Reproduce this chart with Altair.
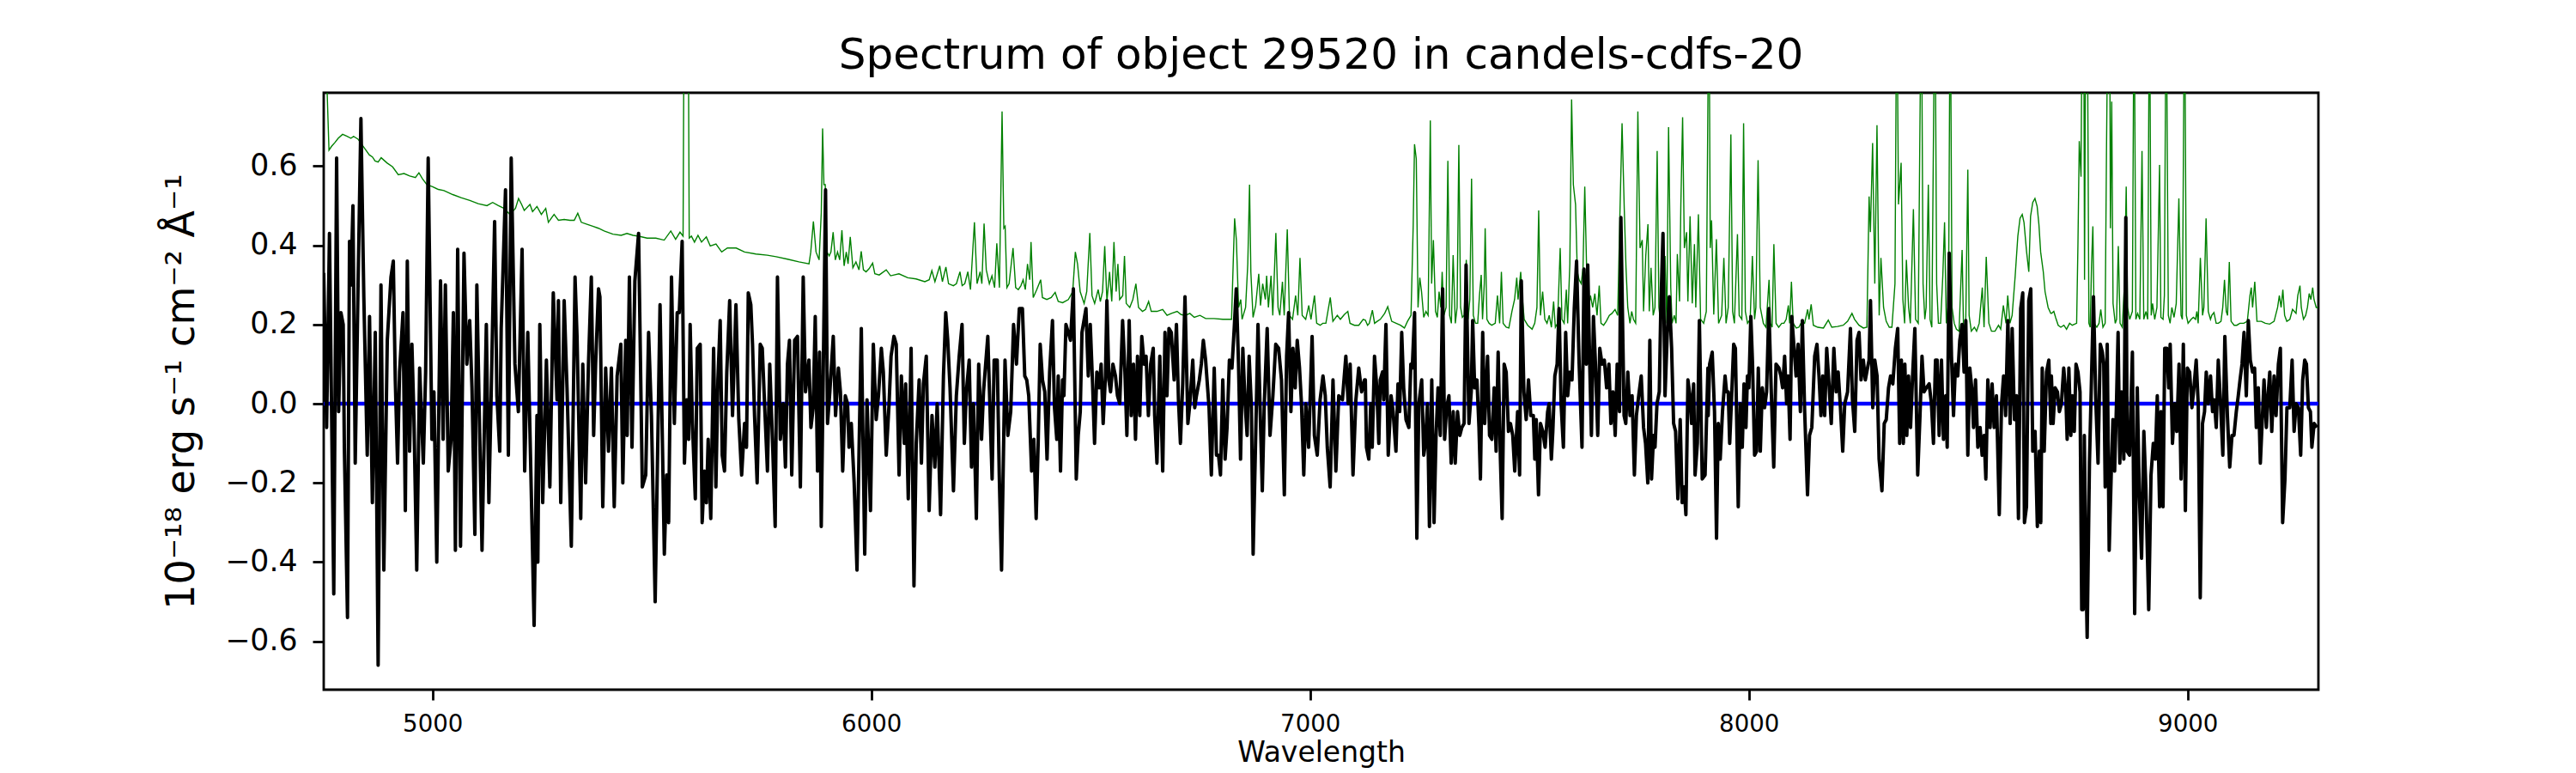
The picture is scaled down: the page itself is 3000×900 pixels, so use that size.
import altair as alt
import pandas as pd

TITLE = "Spectrum of object 29520 in candels-cdfs-20"
X_TITLE = "Wavelength"
Y_TITLE = "10⁻¹⁸ erg s⁻¹ cm⁻² Å⁻¹"
X_TICKS = [5000, 6000, 7000, 8000, 9000]
Y_TICKS = [-0.6, -0.4, -0.2, 0.0, 0.2, 0.4, 0.6]
X_RANGE = [4752, 9298]
Y_RANGE = [-0.722, 0.785]

# ---- observed spectrum (black), read segment by segment ----
WAVE_1 = [4752.0, 4758.6, 4765.1, 4774.9, 4781.4, 4786.0, 4791.2, 4796.4, 4799.0, 4806.2,
          4810.8, 4814.0, 4818.6, 4823.8, 4830.3, 4836.8, 4843.4, 4851.2, 4856.4, 4862.9,
          4869.5, 4876.0, 4882.5, 4889.0, 4896.9, 4905.3, 4910.6, 4915.1, 4920.3, 4924.9,
          4932.7, 4938.0, 4942.5, 4947.7, 4953.0, 4957.5, 4964.0, 4970.6, 4979.0, 4984.3,
          4990.1, 4998.6, 5003.2, 5009.7, 5018.2, 5024.1, 5029.3, 5035.8, 5042.3, 5047.5,
          5052.1, 5057.3, 5063.8, 5071.7, 5078.2, 5084.7, 5089.9, 5096.5, 5101.0, 5105.6,
          5112.8, 5122.6, 5128.4, 5133.6, 5141.5, 5146.7, 5153.2, 5156.5, 5166.3, 5172.8,
          5179.3, 5187.8, 5195.6, 5204.1, 5210.0, 5217.1, 5225.0, 5231.5, 5238.0, 5240.0,
          5244.5, 5251.1, 5259.5, 5267.4, 5275.2, 5283.7, 5286.9, 5292.2, 5300.0, 5306.5,
          5316.3, 5324.8, 5329.3, 5337.8, 5342.4, 5348.9, 5355.4, 5361.9, 5367.2, 5371.7,
          5378.3, 5381.5, 5388.0, 5394.6, 5401.1, 5407.6, 5414.1, 5420.7, 5429.1, 5433.7,
          5440.2, 5443.5, 5448.7, 5454.6, 5461.1, 5469.6, 5478.1, 5485.9, 5492.4, 5498.9,
          5507.4, 5518.5, 5528.3, 5533.5, 5538.1, 5544.6, 5551.1, 5557.6]
FLUX_1 = [0.33, -0.06, 0.43, -0.48, 0.62, -0.02, 0.23, 0.20, -0.11, -0.54,
          0.41, 0.30, 0.50, -0.15, 0.30, 0.72, 0.27, -0.13, 0.22, -0.25,
          0.18, -0.66, 0.30, -0.42, 0.16, 0.32, 0.36, 0.06, -0.15, 0.08,
          0.23, -0.27, 0.36, -0.12, 0.15, -0.03, -0.42, 0.09, -0.15, 0.08,
          0.62, -0.09, 0.03, -0.40, 0.31, -0.09, 0.30, -0.17, -0.09, 0.23,
          -0.37, 0.39, -0.36, 0.38, 0.10, 0.21, 0.04, -0.33, 0.30, 0.03,
          -0.37, 0.20, -0.25, 0.02, 0.46, 0.02, -0.12, 0.19, 0.54, -0.13,
          0.62, 0.10, -0.02, 0.39, -0.17, 0.18, -0.22, -0.56, -0.03, -0.40,
          0.20, -0.25, 0.11, -0.21, 0.28, 0.01, 0.26, -0.25, 0.26, 0.04,
          -0.36, 0.32, 0.17, -0.29, 0.10, -0.20, 0.10, 0.32, -0.08, 0.10,
          0.29, 0.27, -0.26, 0.09, -0.12, 0.09, -0.26, 0.07, 0.15, -0.20,
          0.16, -0.08, 0.32, -0.11, 0.31, 0.43, -0.21, -0.18, 0.18, -0.03,
          -0.50, 0.25, -0.38, -0.18, -0.30, 0.32, -0.05, 0.23]

WAVE_2 = [5562.3, 5568.9, 5574.1, 5579.3, 5583.9, 5587.1, 5592.3, 5598.9, 5603.4, 5610.0,
          5614.5, 5619.7, 5624.3, 5628.2, 5634.1, 5640.6, 5645.8, 5650.4, 5655.6, 5660.2,
          5665.4, 5670.6, 5677.2, 5683.7, 5691.5, 5698.0, 5704.5, 5711.1, 5715.6, 5719.6,
          5725.4, 5729.3, 5733.9, 5739.8, 5746.9, 5751.5, 5756.7, 5763.3, 5768.5, 5775.0,
          5780.9, 5786.1, 5792.6, 5799.1, 5804.3, 5808.9, 5813.5, 5818.7, 5825.2, 5831.7,
          5838.3, 5844.8, 5850.0, 5857.8, 5862.4, 5867.6, 5872.2, 5877.4, 5882.0, 5885.9,
          5890.5, 5895.7, 5900.2, 5905.5, 5913.3, 5918.5, 5925.0, 5929.6, 5934.8, 5940.7,
          5945.9, 5949.2, 5954.4, 5960.9, 5967.4, 5972.0, 5977.2, 5985.0, 5990.2, 5998.1,
          6004.6, 6011.1, 6016.3, 6022.9, 6027.4, 6034.0, 6040.5, 6045.0, 6051.6, 6056.8,
          6063.3, 6068.5, 6075.1, 6078.3, 6084.2, 6090.7, 6097.2, 6102.4, 6109.0, 6114.2,
          6118.7, 6125.3, 6131.8, 6138.3, 6144.8, 6150.1, 6157.9, 6164.4, 6169.6, 6174.2,
          6179.4, 6187.2, 6193.8, 6200.3, 6206.8, 6212.0, 6216.6, 6223.1, 6228.3, 6232.9,
          6239.4, 6244.7, 6251.2, 6255.7, 6265.5, 6275.3, 6279.9, 6287.0, 6291.6, 6296.8,
          6304.7, 6311.2, 6317.7, 6324.2, 6330.8, 6337.3]
FLUX_2 = [0.23, 0.41, -0.15, 0.01, -0.09, 0.20, -0.05, -0.24, 0.14, 0.15,
          -0.30, -0.17, -0.25, -0.09, -0.29, 0.14, -0.21, 0.06, 0.21, -0.13,
          -0.17, 0.08, 0.26, -0.03, 0.25, -0.04, -0.18, -0.05, -0.11, 0.28,
          0.25, 0.15, -0.03, -0.20, 0.15, 0.14, 0.00, -0.17, 0.10, -0.10,
          -0.31, 0.32, -0.09, 0.00, -0.16, 0.10, 0.16, -0.18, 0.16, 0.17,
          -0.21, 0.32, 0.03, 0.11, -0.06, -0.01, 0.22, -0.17, 0.13, -0.31,
          0.08, 0.54, -0.05, 0.03, 0.17, -0.03, 0.09, 0.03, -0.17, 0.02,
          0.00, -0.11, -0.05, -0.20, -0.42, -0.12, 0.19, -0.38, 0.01, -0.27,
          0.15, -0.04, 0.02, 0.14, 0.08, -0.13, 0.00, 0.12, 0.17, 0.15,
          -0.18, 0.07, -0.10, 0.05, -0.24, 0.14, -0.46, -0.10, 0.06, -0.15,
          0.05, 0.12, -0.27, -0.03, -0.16, 0.00, -0.28, 0.07, 0.23, 0.16,
          0.04, -0.22, 0.02, 0.12, 0.20, -0.10, 0.03, 0.11, -0.16, 0.00,
          -0.29, 0.10, -0.09, 0.03, 0.17, -0.19, 0.11, 0.11, -0.18, -0.42,
          0.11, -0.08, -0.02, 0.20, 0.10, 0.24]

WAVE_3 = [6344.4, 6349.7, 6354.2, 6358.8, 6365.3, 6370.5, 6375.7, 6380.3, 6384.9, 6390.1,
          6395.3, 6400.5, 6406.4, 6412.9, 6417.5, 6422.7, 6426.0, 6431.2, 6435.8, 6439.0,
          6443.6, 6448.8, 6454.0, 6460.5, 6467.1, 6471.6, 6476.2, 6480.1, 6484.7, 6489.2,
          6494.5, 6499.0, 6504.3, 6508.8, 6514.0, 6519.3, 6523.8, 6528.4, 6533.6, 6536.9,
          6541.4, 6545.3, 6550.6, 6556.4, 6561.0, 6566.2, 6572.7, 6578.0, 6582.5, 6587.7,
          6592.3, 6597.5, 6602.1, 6606.7, 6611.9, 6616.4, 6621.7, 6626.2, 6631.5, 6636.7,
          6642.5, 6645.8, 6651.0, 6657.5, 6664.1, 6669.3, 6673.8, 6678.4, 6683.6, 6690.2,
          6695.4, 6700.0, 6704.5, 6709.7, 6714.9, 6721.5, 6726.0, 6732.6, 6737.1, 6741.0,
          6747.6, 6752.1, 6756.7, 6761.9, 6769.7, 6775.0, 6781.5, 6786.7, 6791.3, 6795.8,
          6801.0, 6806.3, 6810.8, 6816.1, 6821.9, 6827.1, 6831.7, 6836.9, 6841.5, 6846.7,
          6851.9, 6856.5, 6861.1, 6866.3, 6870.2, 6876.1, 6881.3, 6885.8, 6891.1, 6895.6,
          6902.2, 6908.7, 6915.2, 6921.7, 6928.3, 6934.8, 6941.3, 6946.5, 6951.1, 6956.3,
          6960.9, 6966.1, 6970.7, 6975.9, 6980.4, 6985.6, 6990.2, 6996.7, 7004.6, 7009.8,
          7016.3, 7022.8, 7029.4, 7034.6, 7039.2, 7045.7, 7052.2, 7058.8, 7065.3, 7073.7,
          7081.5, 7086.8, 7091.3, 7097.8, 7104.4, 7110.9, 7117.4, 7123.9]
FLUX_3 = [0.24, 0.07, 0.06, 0.02, -0.17, -0.09, -0.29, -0.10, 0.15, 0.06,
          0.03, -0.14, 0.08, 0.21, -0.01, -0.09, 0.07, -0.17, 0.06, 0.02,
          0.20, 0.18, 0.16, 0.29, -0.19, -0.08, -0.02, 0.18, 0.21, 0.24,
          0.07, 0.20, 0.05, -0.10, 0.08, 0.04, 0.10, -0.05, 0.07, 0.26,
          0.06, 0.03, 0.10, 0.07, 0.02, 0.00, 0.21, 0.08, -0.08, 0.21,
          -0.03, 0.10, -0.09, 0.12, -0.03, 0.17, 0.10, 0.12, -0.03, 0.10,
          0.14, -0.03, -0.15, 0.12, -0.17, 0.18, 0.02, 0.19, 0.18, 0.06,
          0.20, 0.01, -0.10, 0.05, 0.27, -0.05, 0.00, 0.11, -0.01, 0.02,
          0.06, 0.10, 0.16, 0.11, -0.01, -0.18, 0.09, -0.13, -0.13, -0.18,
          0.06, -0.14, -0.06, 0.11, 0.09, 0.19, 0.29, 0.10, -0.14, 0.14,
          0.00, -0.08, 0.12, -0.01, -0.38, -0.08, 0.20, 0.00, -0.22, 0.00,
          0.19, -0.08, 0.02, 0.15, 0.14, 0.06, -0.23, 0.12, 0.23, -0.02,
          0.14, 0.04, 0.16, 0.09, 0.00, -0.18, 0.00, -0.11, 0.17, -0.08,
          -0.13, 0.01, 0.07, 0.02, -0.11, -0.21, 0.06, -0.17, 0.02, 0.01,
          0.12, 0.00, 0.10, -0.18, 0.01, 0.09, 0.03, 0.06]

WAVE_4 = [7125.9, 7128.5, 7133.8, 7138.3, 7141.6, 7146.8, 7152.0, 7156.6, 7159.9, 7165.1,
          7167.7, 7172.9, 7178.1, 7184.6, 7189.2, 7195.7, 7200.3, 7204.2, 7208.8, 7213.3,
          7218.6, 7225.1, 7229.6, 7232.9, 7238.1, 7243.3, 7247.9, 7254.4, 7259.0, 7262.9,
          7267.5, 7272.0, 7277.3, 7282.5, 7287.1, 7291.6, 7296.8, 7302.1, 7306.6, 7311.2,
          7316.4, 7321.6, 7326.2, 7330.8, 7336.0, 7341.2, 7345.8, 7351.0, 7355.5, 7362.1,
          7367.3, 7370.5, 7375.1, 7380.3, 7384.9, 7388.2, 7393.4, 7397.9, 7404.5, 7409.0,
          7414.3, 7419.5, 7424.0, 7428.6, 7433.8, 7437.7, 7442.3, 7446.9, 7452.1, 7456.6,
          7461.9, 7466.4, 7472.9, 7477.5, 7481.4, 7487.3, 7492.5, 7497.7, 7503.0, 7508.8,
          7512.1, 7515.4, 7520.6, 7525.1, 7530.4, 7535.6, 7541.4, 7544.7, 7549.9, 7553.2,
          7557.8, 7563.0, 7567.5, 7572.1, 7577.3, 7582.5, 7587.1, 7591.7, 7596.9, 7602.1,
          7607.3, 7613.2, 7619.7, 7624.3, 7629.5, 7632.8, 7637.3, 7641.2, 7645.8, 7650.4,
          7655.6, 7660.2, 7665.4, 7670.6, 7675.8, 7681.0, 7685.6, 7690.2, 7695.4, 7699.9,
          7705.2, 7708.4, 7713.0, 7715.6, 7719.5, 7724.1, 7729.3, 7733.9, 7739.1, 7743.7,
          7748.9, 7754.7, 7760.0, 7764.5, 7769.7, 7774.3, 7778.2, 7782.8, 7786.1, 7790.6,
          7795.8, 7799.1, 7804.3, 7808.9, 7814.1, 7818.7, 7823.9, 7828.5, 7833.0, 7838.2,
          7843.5, 7848.0, 7852.6, 7856.5, 7861.1, 7865.6, 7869.5, 7874.1, 7877.4, 7882.6,
          7887.2, 7893.7, 7900.2, 7906.7]
FLUX_4 = [0.06, -0.11, -0.14, 0.00, -0.11, 0.12, 0.04, -0.10, 0.06, 0.08,
          0.01, 0.20, -0.13, 0.02, -0.02, -0.12, 0.05, -0.02, 0.18, 0.04,
          -0.04, -0.06, 0.10, 0.09, 0.23, -0.34, 0.00, 0.06, -0.13, -0.10,
          0.00, -0.31, 0.06, -0.30, -0.08, 0.04, -0.08, 0.29, -0.09, -0.01,
          0.02, -0.15, -0.02, -0.15, -0.02, -0.08, -0.06, -0.05, 0.35, -0.05,
          0.03, 0.21, 0.04, 0.06, -0.06, -0.19, 0.18, -0.05, 0.12, -0.08,
          -0.09, 0.04, -0.12, 0.13, -0.14, -0.29, 0.10, 0.08, -0.07, -0.05,
          -0.08, -0.17, -0.02, -0.18, 0.31, 0.03, -0.04, 0.06, -0.03, -0.03,
          -0.14, -0.04, -0.23, -0.05, -0.07, -0.11, -0.02, 0.00, -0.14, -0.07,
          0.07, 0.10, 0.24, 0.00, -0.11, 0.18, 0.02, 0.08, 0.06, 0.24,
          0.36, 0.10, -0.11, 0.34, 0.10, 0.35, 0.10, -0.08, 0.22, 0.10,
          -0.08, 0.14, 0.10, 0.11, 0.04, 0.10, -0.05, 0.03, -0.08, 0.10,
          -0.02, 0.47, 0.15, -0.03, -0.05, 0.08, -0.03, 0.02, -0.18, -0.03,
          0.02, 0.07, -0.06, -0.10, -0.20, 0.16, -0.19, -0.08, -0.11, 0.00,
          0.03, 0.23, 0.43, 0.02, 0.18, 0.27, 0.14, -0.05, -0.07, -0.24,
          -0.04, -0.25, -0.21, -0.28, 0.06, 0.02, -0.05, 0.05, -0.18, -0.10,
          0.21, -0.19, -0.18, 0.09]

WAVE_5 = [7907.3, 7910.6, 7916.5, 7921.7, 7926.3, 7930.2, 7934.7, 7939.9, 7945.8, 7949.1,
          7953.0, 7956.3, 7960.8, 7965.4, 7969.3, 7975.8, 7980.4, 7985.0, 7988.9, 7993.4,
          7996.7, 8000.0, 8004.5, 8008.4, 8013.0, 8017.6, 8021.5, 8026.1, 8030.6, 8035.8,
          8040.4, 8045.6, 8050.8, 8056.7, 8061.9, 8068.5, 8073.0, 8076.9, 8081.5, 8086.1,
          8089.3, 8093.9, 8097.8, 8103.0, 8107.6, 8112.2, 8117.4, 8121.9, 8127.2, 8133.7,
          8138.2, 8143.5, 8150.0, 8155.2, 8159.8, 8164.3, 8168.3, 8172.8, 8177.4, 8182.6,
          8187.8, 8193.7, 8198.9, 8203.5, 8208.7, 8213.9, 8218.5, 8225.0, 8231.5, 8236.1,
          8241.3, 8246.5, 8251.1, 8255.7, 8260.9, 8265.4, 8268.7, 8273.9, 8277.2, 8282.4,
          8287.0, 8292.2, 8296.8, 8303.3, 8308.5, 8313.1, 8318.3, 8322.9, 8328.1, 8333.9,
          8339.2, 8343.7, 8347.6, 8352.2, 8355.5, 8360.0, 8363.9, 8368.5, 8373.1, 8378.3,
          8384.8, 8390.0, 8394.6, 8399.2, 8404.4, 8410.9, 8416.1, 8420.7, 8425.3, 8429.2,
          8433.7, 8439.0, 8443.5, 8448.7, 8452.0, 8456.6, 8461.8, 8466.4, 8470.9, 8476.1,
          8480.7, 8485.9, 8490.5, 8494.4, 8499.0, 8503.5, 8508.8, 8512.0, 8516.6, 8521.8,
          8527.0, 8531.6, 8536.1, 8540.1, 8544.6, 8549.8, 8554.4, 8559.0, 8564.2, 8570.7,
          8575.9, 8580.5, 8585.1, 8590.3, 8595.5, 8600.1, 8605.3, 8609.9, 8614.4, 8619.6,
          8624.2, 8628.1, 8632.7, 8637.9, 8642.5, 8647.0, 8652.3, 8657.5, 8662.0, 8665.3,
          8668.6, 8673.1, 8678.4, 8683.6, 8688.2]
FLUX_5 = [-0.03, 0.10, 0.13, -0.02, -0.34, -0.05, -0.14, -0.02, 0.07, 0.03,
          0.03, -0.10, 0.02, 0.15, 0.14, -0.26, 0.00, -0.11, 0.05, -0.06,
          0.07, 0.04, 0.22, 0.10, -0.13, -0.12, 0.09, -0.12, 0.04, -0.01,
          0.03, 0.24, 0.04, -0.16, 0.10, 0.09, 0.07, 0.04, 0.12, 0.00,
          0.07, -0.09, 0.22, 0.14, 0.07, 0.15, -0.02, 0.21, -0.02, -0.23,
          -0.08, -0.06, 0.12, 0.15, 0.07, -0.03, 0.07, -0.03, 0.14, 0.05,
          -0.05, 0.14, 0.03, 0.08, -0.01, -0.12, 0.00, 0.03, 0.19, 0.01,
          -0.07, 0.16, 0.18, 0.06, 0.11, 0.06, 0.08, 0.11, 0.26, -0.01,
          0.11, 0.07, -0.14, -0.22, -0.05, -0.04, 0.04, 0.07, 0.05, 0.14,
          0.19, -0.10, 0.11, -0.10, 0.10, -0.08, 0.07, -0.06, 0.07, 0.19,
          -0.18, -0.03, 0.12, 0.03, 0.04, 0.05, 0.00, -0.10, 0.11, 0.11,
          -0.08, 0.11, -0.09, 0.02, -0.11, 0.38, 0.12, -0.03, 0.10, 0.07,
          0.16, 0.20, 0.08, 0.21, -0.13, 0.09, 0.03, -0.06, 0.06, -0.11,
          -0.06, -0.13, -0.08, -0.19, 0.06, -0.06, 0.05, -0.06, 0.02, -0.28,
          0.00, 0.07, -0.03, 0.21, -0.05, 0.19, -0.04, 0.02, -0.29, 0.24,
          0.28, -0.30, -0.26, 0.26, 0.29, -0.12, -0.07, -0.31, -0.12, -0.30,
          0.09, -0.12, 0.08, 0.11, -0.05]

WAVE_6 = [8689.5, 8693.4, 8697.9, 8703.2, 8707.7, 8712.3, 8717.5, 8722.1, 8725.4, 8729.3,
          8733.8, 8737.1, 8741.7, 8745.6, 8750.1, 8754.7, 8758.6, 8761.9, 8764.5, 8767.8,
          8771.0, 8776.2, 8780.8, 8785.4, 8790.6, 8795.8, 8801.0, 8805.6, 8808.8, 8812.1,
          8816.7, 8821.2, 8825.8, 8829.7, 8833.6, 8837.6, 8841.5, 8845.4, 8849.3, 8854.5,
          8859.1, 8862.3, 8867.6, 8874.1, 8879.3, 8885.2, 8889.7, 8895.0, 8900.2, 8904.7,
          8911.3, 8916.5, 8921.7, 8926.3, 8930.8, 8936.1, 8939.3, 8943.9, 8947.8, 8952.4,
          8956.9, 8960.2, 8965.4, 8970.6, 8975.2, 8980.4, 8985.0, 8990.2, 8994.8, 8999.3,
          9004.5, 9009.8, 9014.3, 9019.5, 9024.1, 9028.7, 9033.9, 9038.5, 9042.4, 9047.0,
          9052.2, 9056.7, 9060.6, 9065.2, 9069.8, 9075.0, 9080.2, 9084.8, 9090.6, 9095.9,
          9101.1, 9105.6, 9110.9, 9115.4, 9119.4, 9123.9, 9128.5, 9133.7, 9138.3, 9142.8,
          9148.0, 9152.6, 9156.5, 9161.1, 9165.7, 9170.9, 9174.1, 9179.4, 9183.9, 9187.2,
          9191.7, 9197.0, 9201.5, 9206.8, 9211.3, 9216.5, 9221.8, 9226.3, 9232.8, 9238.1,
          9242.6, 9247.2, 9252.4, 9257.6, 9262.2, 9266.8, 9270.7, 9275.2, 9279.8, 9283.1,
          9288.3, 9294.8]
FLUX_6 = [0.07, -0.05, 0.04, 0.03, -0.02, 0.00, 0.09, 0.03, -0.09, 0.09,
          -0.08, 0.02, -0.07, 0.10, 0.08, 0.03, -0.52, -0.52, -0.08, -0.39,
          -0.59, -0.15, 0.06, 0.27, 0.01, -0.15, 0.15, 0.13, 0.10, -0.21,
          0.15, -0.37, -0.18, -0.04, -0.17, -0.01, 0.18, -0.15, 0.03, -0.14,
          0.47, -0.12, -0.13, 0.13, -0.53, 0.04, -0.22, -0.39, -0.07, -0.21,
          -0.52, -0.18, -0.10, -0.14, 0.02, -0.26, -0.02, -0.26, 0.14, 0.14,
          0.04, 0.15, -0.10, 0.00, -0.07, 0.10, -0.19, 0.15, -0.27, 0.09,
          0.08, -0.01, 0.04, 0.11, 0.00, -0.49, -0.05, -0.02, 0.08, 0.00,
          0.07, -0.02, 0.01, -0.06, 0.11, 0.00, -0.13, 0.17, -0.03, -0.16,
          -0.08, -0.08, -0.02, 0.02, 0.06, 0.10, 0.18, 0.02, 0.21, 0.11,
          0.08, 0.09, -0.06, 0.04, -0.15, -0.02, 0.06, -0.06, 0.03, 0.08,
          -0.07, 0.07, -0.03, 0.10, 0.14, -0.30, -0.19, -0.01, -0.01, 0.11,
          -0.07, 0.00, -0.01, -0.13, 0.06, 0.11, 0.10, -0.01, -0.02, -0.11,
          -0.05, -0.06]

# ---- noise spectrum (green) ----
NOISE_WAVE_1 = [4752, 4758, 4764, 4770, 4778, 4785, 4795, 4805, 4814, 4820,
                4830, 4843, 4856, 4863, 4869, 4876, 4883, 4896, 4909, 4922,
                4935, 4948, 4961, 4969, 4977, 4987, 5000, 5013, 5026, 5046,
                5065, 5085, 5104, 5124, 5137, 5150, 5163, 5176, 5189, 5196,
                5203, 5209, 5222, 5228, 5238, 5248, 5258, 5264, 5277, 5287,
                5300, 5313, 5323, 5331, 5339, 5352, 5365, 5378, 5391, 5411,
                5430, 5443, 5457, 5470, 5489, 5509, 5528, 5543, 5554]
NOISE_1 = [1.2, 0.85, 0.64, 0.65, 0.66, 0.67, 0.68, 0.675, 0.67, 0.675,
           0.668, 0.648, 0.628, 0.623, 0.613, 0.61, 0.621, 0.608, 0.598, 0.578,
           0.581, 0.575, 0.571, 0.583, 0.568, 0.553, 0.548, 0.541, 0.538, 0.528,
           0.52, 0.513, 0.505, 0.50, 0.508, 0.50, 0.493, 0.478, 0.493, 0.518,
           0.503, 0.488, 0.503, 0.485, 0.498, 0.478, 0.493, 0.458, 0.478, 0.463,
           0.465, 0.463, 0.463, 0.481, 0.458, 0.453, 0.448, 0.443, 0.436, 0.428,
           0.425, 0.43, 0.425, 0.423, 0.418, 0.418, 0.413, 0.436, 0.415]

NOISE_WAVE_2 = [5564, 5571, 5574, 5577, 5582, 5585, 5590, 5597, 5605, 5613,
                5624, 5633, 5646, 5659, 5672, 5692, 5711, 5737, 5763, 5783,
                5809, 5835, 5858, 5862, 5868, 5874, 5881, 5886, 5889, 5892,
                5895, 5899, 5904, 5908, 5913, 5918, 5923, 5928, 5933, 5938,
                5943, 5947, 5952, 5958, 5965, 5972, 5977, 5982, 5988, 5995,
                6003, 6008, 6018, 6034, 6044, 6063, 6083, 6102, 6122, 6132,
                6138, 6145, 6156, 6162, 6170, 6176, 6187, 6194, 6202, 6207,
                6213, 6220, 6226, 6235, 6241, 6248, 6252, 6257, 6262, 6269,
                6275, 6281, 6286, 6292, 6298, 6302, 6305, 6309, 6314, 6323,
                6329]
NOISE_2 = [0.433, 0.423, 1.2, 1.2, 1.2, 0.418, 0.423, 0.408, 0.425, 0.408,
           0.421, 0.398, 0.403, 0.383, 0.393, 0.393, 0.383, 0.378, 0.375, 0.371,
           0.365, 0.358, 0.353, 0.383, 0.46, 0.383, 0.363, 0.483, 0.695, 0.553,
           0.553, 0.383, 0.373, 0.383, 0.433, 0.363, 0.383, 0.363, 0.438, 0.348,
           0.383, 0.353, 0.421, 0.343, 0.358, 0.338, 0.385, 0.338, 0.333, 0.341,
           0.355, 0.328, 0.325, 0.338, 0.323, 0.328, 0.318, 0.315, 0.308, 0.313,
           0.336, 0.308, 0.348, 0.308, 0.345, 0.303, 0.298, 0.303, 0.333, 0.298,
           0.303, 0.333, 0.288, 0.458, 0.303, 0.333, 0.303, 0.455, 0.338, 0.303,
           0.323, 0.293, 0.405, 0.293, 0.738, 0.443, 0.448, 0.293, 0.303, 0.393,
           0.293]

NOISE_WAVE_3 = [6335, 6341, 6346, 6351, 6356, 6361, 6364, 6369, 6377, 6386,
                6390, 6400, 6410, 6419, 6426, 6436, 6449, 6459, 6465, 6470,
                6476, 6485, 6491, 6498, 6503, 6509, 6517, 6522, 6527, 6532,
                6537, 6543, 6548, 6553, 6558, 6562, 6566, 6573, 6577, 6581,
                6589, 6596, 6603, 6609, 6618, 6625, 6632, 6638, 6651, 6664,
                6674, 6684, 6697, 6706, 6716, 6726, 6736, 6749, 6762, 6781,
                6801, 6821, 6825, 6828, 6832, 6837, 6842, 6845, 6853, 6858,
                6862, 6865, 6870, 6876, 6883, 6887, 6892, 6898, 6901, 6905,
                6911, 6915, 6922, 6927, 6931, 6937, 6941, 6948, 6953, 6960,
                6967, 6972, 6977, 6982, 6990, 6997, 7002, 7010, 7015, 7023,
                7029, 7036, 7046, 7052, 7062, 7069, 7078, 7086, 7091, 7101,
                7111, 7121]
NOISE_3 = [0.288, 0.298, 0.313, 0.288, 0.353, 0.313, 0.408, 0.268, 0.288, 0.313,
           0.268, 0.263, 0.268, 0.281, 0.258, 0.255, 0.263, 0.283, 0.383, 0.353,
           0.283, 0.253, 0.283, 0.431, 0.273, 0.253, 0.288, 0.258, 0.283, 0.398,
           0.258, 0.333, 0.258, 0.408, 0.283, 0.353, 0.263, 0.273, 0.373, 0.253,
           0.243, 0.263, 0.303, 0.243, 0.233, 0.238, 0.258, 0.233, 0.233, 0.238,
           0.223, 0.228, 0.233, 0.225, 0.223, 0.228, 0.218, 0.223, 0.215, 0.215,
           0.213, 0.213, 0.363, 0.468, 0.413, 0.243, 0.263, 0.213, 0.243, 0.353,
           0.553, 0.333, 0.218, 0.248, 0.328, 0.248, 0.303, 0.263, 0.323, 0.243,
           0.323, 0.223, 0.431, 0.243, 0.223, 0.308, 0.223, 0.44, 0.223, 0.213,
           0.273, 0.223, 0.368, 0.223, 0.213, 0.248, 0.213, 0.273, 0.203, 0.198,
           0.203, 0.203, 0.268, 0.208, 0.223, 0.213, 0.225, 0.233, 0.203, 0.198,
           0.198, 0.213]

NOISE_WAVE_4 = [7126, 7131, 7135, 7142, 7147, 7153, 7160, 7170, 7177, 7186,
                7196, 7206, 7215, 7222, 7230, 7235, 7238, 7242, 7246, 7250,
                7254, 7259, 7264, 7269, 7274, 7277, 7281, 7286, 7290, 7294,
                7298, 7301, 7305, 7310, 7314, 7318, 7322, 7326, 7331, 7335,
                7339, 7343, 7347, 7351, 7356, 7360, 7364, 7368, 7372, 7377,
                7382, 7386, 7390, 7393, 7397, 7399, 7403, 7408, 7414, 7422,
                7427, 7432, 7436, 7440, 7447, 7453, 7460, 7466, 7471, 7474,
                7480, 7484, 7488, 7496, 7506, 7512, 7517, 7521, 7525, 7530,
                7535, 7540, 7545, 7550, 7555, 7559, 7564, 7570, 7574, 7579,
                7584, 7587, 7592, 7596, 7600, 7605, 7609, 7613, 7618, 7622,
                7626, 7631, 7635, 7639, 7644, 7649, 7654, 7659, 7663, 7669,
                7675, 7682, 7688, 7695, 7701, 7706, 7711, 7716, 7720, 7724,
                7729, 7733, 7737, 7742, 7747, 7752, 7757, 7760, 7765, 7770,
                7773, 7777, 7782, 7786, 7791, 7795, 7799, 7804, 7809, 7813,
                7817, 7822, 7825, 7830, 7834, 7837, 7842, 7845, 7849, 7853,
                7858, 7861, 7866, 7871, 7876, 7879, 7885, 7890, 7897, 7903]
NOISE_4 = [0.211, 0.198, 0.203, 0.236, 0.203, 0.208, 0.213, 0.228, 0.245, 0.208,
           0.203, 0.198, 0.191, 0.208, 0.223, 0.45, 0.655, 0.618, 0.243, 0.318,
           0.283, 0.218, 0.233, 0.223, 0.715, 0.303, 0.413, 0.233, 0.218, 0.283,
           0.243, 0.333, 0.223, 0.243, 0.613, 0.223, 0.203, 0.375, 0.203, 0.243,
           0.653, 0.243, 0.218, 0.223, 0.363, 0.213, 0.263, 0.568, 0.223, 0.203,
           0.203, 0.273, 0.325, 0.213, 0.303, 0.443, 0.213, 0.203, 0.198, 0.203,
           0.273, 0.203, 0.333, 0.203, 0.193, 0.191, 0.233, 0.263, 0.318, 0.263,
           0.333, 0.263, 0.213, 0.198, 0.188, 0.203, 0.243, 0.488, 0.223, 0.283,
           0.213, 0.203, 0.223, 0.193, 0.258, 0.193, 0.203, 0.393, 0.213, 0.203,
           0.288, 0.203, 0.353, 0.768, 0.553, 0.503, 0.333, 0.313, 0.303, 0.343,
           0.548, 0.303, 0.243, 0.273, 0.243, 0.278, 0.223, 0.298, 0.203, 0.198,
           0.208, 0.223, 0.228, 0.238, 0.223, 0.473, 0.708, 0.493, 0.343, 0.243,
           0.203, 0.233, 0.213, 0.203, 0.738, 0.393, 0.413, 0.233, 0.373, 0.453,
           0.233, 0.343, 0.223, 0.243, 0.638, 0.243, 0.203, 0.273, 0.373, 0.203,
           0.698, 0.293, 0.203, 0.223, 0.203, 0.378, 0.258, 0.503, 0.723, 0.393,
           0.433, 0.258, 0.473, 0.253, 0.403, 0.243, 0.478, 0.213, 0.203, 0.233]

NOISE_WAVE_5 = [7909, 7912, 7915, 7920, 7926, 7931, 7938, 7943, 7948, 7953,
                7959, 7963, 7967, 7974, 7978, 7984, 7988, 7992, 7997, 8003,
                8008, 8013, 8016, 8021, 8026, 8033, 8039, 8046, 8049, 8053,
                8057, 8062, 8068, 8075, 8080, 8085, 8090, 8093, 8097, 8101,
                8108, 8114, 8121, 8127, 8134, 8137, 8142, 8147, 8157, 8170,
                8181, 8189, 8202, 8215, 8225, 8235, 8241, 8251, 8261, 8269,
                8274, 8277, 8282, 8287, 8292, 8297, 8301, 8307, 8313, 8320,
                8326, 8333, 8337, 8341, 8347, 8351, 8355, 8359, 8364, 8368,
                8375, 8380, 8386, 8393, 8397, 8401, 8404, 8409, 8413, 8417,
                8424, 8428, 8432, 8437, 8442, 8446, 8450, 8455, 8459, 8463,
                8468, 8473, 8479, 8486, 8489, 8494, 8499, 8502, 8507, 8514,
                8519, 8525, 8532, 8536, 8541, 8547, 8553, 8561, 8569, 8574,
                8580, 8586, 8590, 8595, 8600, 8607, 8613, 8618, 8623, 8627,
                8633, 8638, 8642, 8647, 8652, 8657, 8661, 8665, 8671, 8675,
                8682, 8688]
NOISE_5 = [1.1, 0.393, 0.463, 0.225, 0.415, 0.203, 0.223, 0.368, 0.203, 0.243,
           0.68, 0.233, 0.203, 0.428, 0.223, 0.213, 0.708, 0.233, 0.203, 0.213,
           0.373, 0.213, 0.243, 0.615, 0.243, 0.203, 0.193, 0.313, 0.203, 0.193,
           0.403, 0.203, 0.193, 0.203, 0.203, 0.213, 0.248, 0.203, 0.308, 0.203,
           0.191, 0.193, 0.208, 0.203, 0.238, 0.213, 0.251, 0.198, 0.193, 0.191,
           0.211, 0.193, 0.195, 0.198, 0.208, 0.228, 0.213, 0.198, 0.191, 0.193,
           0.523, 0.433, 0.658, 0.303, 0.703, 0.223, 0.368, 0.243, 0.208, 0.193,
           0.193, 0.303, 1.1, 0.503, 0.608, 0.263, 0.203, 0.363, 0.243, 0.203,
           0.491, 0.213, 0.203, 1.1, 0.303, 0.213, 0.243, 0.553, 0.213, 0.193,
           1.1, 0.303, 0.203, 0.203, 0.323, 0.458, 0.203, 0.253, 1.1, 0.243,
           0.203, 0.188, 0.183, 0.388, 0.203, 0.183, 0.591, 0.223, 0.183, 0.193,
           0.183, 0.203, 0.293, 0.193, 0.371, 0.203, 0.183, 0.183, 0.198, 0.188,
           0.248, 0.203, 0.273, 0.203, 0.223, 0.323, 0.423, 0.468, 0.478, 0.458,
           0.383, 0.333, 0.473, 0.508, 0.518, 0.498, 0.453, 0.383, 0.333, 0.283,
           0.243, 0.228]

NOISE_WAVE_6 = [8690, 8695, 8699, 8705, 8711, 8718, 8724, 8731, 8737, 8747,
                8750, 8753, 8757, 8760, 8763, 8765, 8768, 8771, 8775, 8778,
                8781, 8784, 8787, 8793, 8798, 8802, 8807, 8812, 8815, 8819,
                8822, 8824, 8827, 8830, 8835, 8838, 8842, 8846, 8851, 8856,
                8860, 8863, 8868, 8874, 8878, 8882, 8886, 8891, 8896, 8900,
                8905, 8909, 8913, 8917, 8920, 8925, 8930, 8936, 8939, 8944,
                8947, 8951, 8956, 8960, 8964, 8969, 8974, 8980, 8985, 8988,
                8993, 8997, 9001, 9008, 9013, 9018, 9021, 9024, 9029, 9034,
                9037, 9042, 9047, 9052, 9055, 9060, 9065, 9070, 9076, 9080,
                9084, 9088, 9091, 9095, 9099, 9106, 9112, 9119, 9128, 9136,
                9142, 9145, 9148, 9153, 9158, 9168, 9177, 9187, 9197, 9205,
                9209, 9213, 9217, 9221, 9226, 9233, 9239, 9243, 9247, 9251,
                9256, 9259, 9264, 9269, 9273, 9277, 9281, 9285, 9288, 9293,
                9297]
NOISE_6 = [0.228, 0.233, 0.218, 0.198, 0.193, 0.198, 0.188, 0.203, 0.198, 0.203,
           0.403, 0.663, 0.573, 1.1, 1.1, 0.313, 1.1, 1.1, 0.203, 0.193,
           0.353, 0.448, 0.203, 0.193, 0.203, 0.238, 0.193, 0.203, 0.633, 1.1,
           1.1, 0.443, 0.763, 0.253, 0.203, 0.213, 0.398, 0.203, 0.193, 0.303,
           0.548, 0.243, 0.213, 0.233, 1.1, 0.213, 0.228, 0.213, 0.638, 0.213,
           0.233, 0.213, 1.1, 0.223, 0.253, 0.213, 0.243, 0.603, 0.218, 0.213,
           0.273, 1.1, 0.223, 0.203, 0.243, 0.218, 0.253, 0.518, 0.223, 0.213,
           1.1, 0.223, 0.203, 0.213, 0.218, 0.213, 0.233, 0.203, 0.368, 0.223,
           0.243, 0.468, 0.233, 0.213, 0.223, 0.230, 0.203, 0.203, 0.208, 0.243,
           0.313, 0.233, 0.223, 0.358, 0.208, 0.198, 0.198, 0.203, 0.203, 0.208,
           0.273, 0.293, 0.243, 0.308, 0.208, 0.208, 0.203, 0.201, 0.208, 0.243,
           0.273, 0.243, 0.288, 0.223, 0.208, 0.213, 0.238, 0.233, 0.228, 0.273,
           0.298, 0.243, 0.213, 0.223, 0.243, 0.278, 0.263, 0.293, 0.263, 0.243,
           0.243]

# ---- model (blue) ----
MODEL_WAVE = [4752, 9298]
MODEL_FLUX = [0.0, 0.0]


def frame(waves, fluxes):
    rows = []
    for w, f in zip(waves, fluxes):
        for a, b in zip(w, f):
            rows.append({"wave": a, "flux": b})
    return pd.DataFrame(rows)


spec_df = frame([WAVE_1, WAVE_2, WAVE_3, WAVE_4, WAVE_5, WAVE_6],
                [FLUX_1, FLUX_2, FLUX_3, FLUX_4, FLUX_5, FLUX_6])
noise_df = frame([NOISE_WAVE_1, NOISE_WAVE_2, NOISE_WAVE_3, NOISE_WAVE_4, NOISE_WAVE_5, NOISE_WAVE_6],
                 [NOISE_1, NOISE_2, NOISE_3, NOISE_4, NOISE_5, NOISE_6])
model_df = frame([MODEL_WAVE], [MODEL_FLUX])

FONT = "DejaVu Sans"

x_scale = alt.Scale(domain=X_RANGE, nice=False, zero=False)
y_scale = alt.Scale(domain=Y_RANGE, nice=False, zero=False)

x_axis = alt.Axis(values=X_TICKS, format="d", title=X_TITLE, grid=False, domain=False,
                  labelFont=FONT, labelFontSize=27.6, labelColor="black", labelFlush=False,
                  labelPadding=14, tickSize=12, tickWidth=2.8, tickColor="black",
                  titleFont=FONT, titleFontSize=33, titleFontWeight="normal",
                  titleColor="black", titlePadding=4)
y_axis = alt.Axis(values=Y_TICKS, format=".1f", title=Y_TITLE, grid=False, domain=False,
                  labelFont=FONT, labelFontSize=34.7, labelColor="black", labelFlush=False,
                  labelPadding=18, tickSize=13, tickWidth=2.8, tickColor="black",
                  titleFont=FONT, titleFontSize=46, titleFontWeight="normal",
                  titleColor="black", titlePadding=26)

enc = dict(
    x=alt.X("wave:Q", scale=x_scale, axis=x_axis),
    y=alt.Y("flux:Q", scale=y_scale, axis=y_axis),
)

noise = alt.Chart(noise_df).mark_line(color="#008000", strokeWidth=1.4, clip=True).encode(**enc)
model = alt.Chart(model_df).mark_line(color="#0000ff", strokeWidth=4.5, clip=True).encode(**enc)
spec = alt.Chart(spec_df).mark_line(color="#000000", strokeWidth=4, strokeJoin="round",
                                    clip=True).encode(**enc)

chart = alt.layer(noise, model, spec).properties(
    width=2323,
    height=695,
    title=alt.Title(TITLE, font=FONT, fontSize=50, fontWeight="normal", color="black",
                    anchor="middle", baseline="alphabetic", offset=-22, frame="group"),
    autosize=alt.AutoSizeParams(type="none"),
    padding={"left": 369, "top": 100, "right": 292, "bottom": 96},
    background="white",
).configure_view(stroke="black", strokeWidth=2.8)

chart.save("out.html", embed_options={"renderer": "svg", "actions": False})
